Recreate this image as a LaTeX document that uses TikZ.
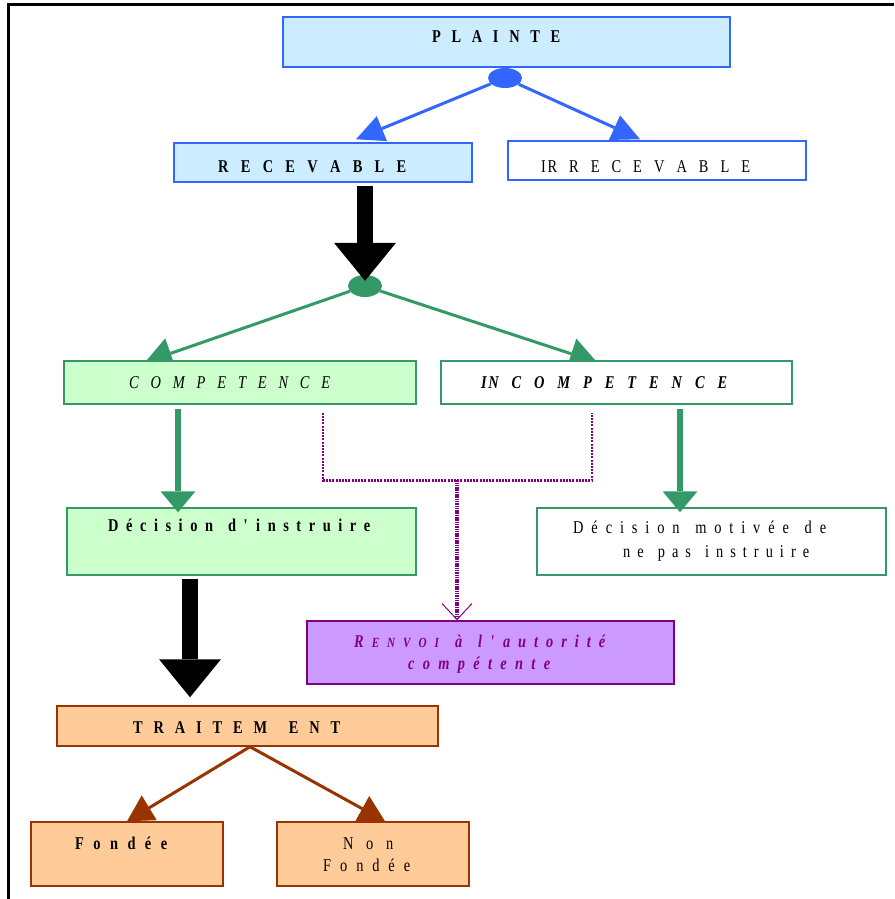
\documentclass[tikz,border=0pt]{standalone}
\usepackage{fontspec}
\setmainfont{Liberation Serif}[FakeStretch=0.8]
\usetikzlibrary{arrows.meta,shapes.geometric}
\definecolor{bblue}{HTML}{3366FF}
\definecolor{lblue}{HTML}{CCECFF}
\definecolor{dgreen}{HTML}{339966}
\definecolor{lgreen}{HTML}{CCFFCC}
\definecolor{purp}{HTML}{800080}
\definecolor{lpurp}{HTML}{CC99FF}
\definecolor{bbrown}{HTML}{993300}
\definecolor{lorange}{HTML}{FFCC99}
\pgfdeclarelayer{bg}
\pgfsetlayers{bg,main}
\newcommand\myfnt{\fontsize{18pt}{21pt}\selectfont}
\newcommand\smallcapfnt{\fontsize{14pt}{16pt}\selectfont}
\newcommand\sE{{\smallcapfnt E}}
\newcommand\sN{{\smallcapfnt N}}
\newcommand\sV{{\smallcapfnt V}}
\newcommand\sO{{\smallcapfnt O}}
\newcommand\sI{{\smallcapfnt I}}
\newcommand\apos{\textquotesingle}
\makeatletter
\def\sp@loop#1{%
  \ifx#1\relax
  \else
    \ifx#1|\hfill\else\hfill#1\fi
    \expandafter\sp@loop
  \fi}
\def\sp@first#1{#1\sp@loop}
\newcommand\spread[2]{\hbox to #1{\sp@first#2\relax}}
\makeatother
\begin{document}
\begin{tikzpicture}[x=1pt,y=-1pt,
  box/.style={rectangle, draw, line width=1.5pt, inner sep=0pt},
  bluebox/.style={box, draw=bblue, fill=lblue},
  bluewbox/.style={box, draw=bblue, fill=white},
  greenbox/.style={box, draw=dgreen, fill=lgreen},
  greenwbox/.style={box, draw=dgreen, fill=white},
  purpbox/.style={box, draw=purp, fill=lpurp},
  orbox/.style={box, draw=bbrown, fill=lorange},
  txt/.style={anchor=base west, inner sep=0pt, font=\myfnt},
  txtb/.style={txt, font=\myfnt\bfseries},
  txti/.style={txt, font=\myfnt\itshape},
  txtbi/.style={txt, font=\myfnt\bfseries\itshape},
  barrow/.style={color=bblue, line width=3pt, -{Triangle[length=28pt,width=27pt,line width=0pt]}},
  garrow/.style={color=dgreen, line width=3pt, -{Triangle[length=27pt,width=32pt,line width=0pt]}},
  gvarrow/.style={color=dgreen, line width=5.5pt, -{Triangle[length=21pt,width=35pt,line width=0pt]}},
  karrow/.style={color=black, line width=16pt, -{Triangle[length=38pt,width=62pt,line width=0pt]}},
  brarrow/.style={color=bbrown, line width=3pt, -{Triangle[length=26pt,width=29pt,line width=0pt]}},
  pline/.style={color=purp, line width=2.5pt, dash pattern=on 2pt off 1.2pt},
  parrow/.style={color=purp, line width=3.5pt, dash pattern=on 1.5pt off 0.8pt, -{Straight Barb[length=16pt,width=30pt,line width=1pt]}},
  dot/.style={ellipse, inner sep=0pt}
]
\useasboundingbox (0,0) rectangle (894,899);
\draw[line width=2.5pt] (8.7,899) -- (8.7,4.7) -- (894,4.7);

% boxes
\node[bluebox, minimum width=447pt, minimum height=50pt] (plainte) at (506.5,42) {};
\node[bluebox, minimum width=298pt, minimum height=39pt] (rec) at (323,162.5) {};
\node[bluewbox, minimum width=298pt, minimum height=39pt] (irr) at (657,160.5) {};
\node[greenbox, minimum width=352pt, minimum height=43pt] (comp) at (240,382.5) {};
\node[greenwbox, minimum width=351pt, minimum height=43pt] (incomp) at (616.5,382.5) {};
\node[greenbox, minimum width=349pt, minimum height=67pt] (dinst) at (241.5,541.5) {};
\node[greenwbox, minimum width=349pt, minimum height=67pt] (dmot) at (711.5,541.5) {};
\node[purpbox, minimum width=367pt, minimum height=63pt] (renvoi) at (490.5,652.5) {};
\node[orbox, minimum width=381pt, minimum height=40pt] (trait) at (247.5,726) {};
\node[orbox, minimum width=192pt, minimum height=64pt] (fondee) at (127,854) {};
\node[orbox, minimum width=192pt, minimum height=64pt] (nonf) at (373,854) {};

% texts
\node[txtb] (tplainte) at (432,43) {\spread{128pt}{PLAINTE}};
\node[txtb] (trec) at (218,172) {\spread{188pt}{RECEVABLE}};
\node[txt] (tirr) at (541,172) {\spread{209pt}{{I\kern1.5pt R}RECEVABLE}};
\node[txti] (tcomp) at (129,388) {\spread{201pt}{COMPETENCE}};
\node[txtbi] (tincomp) at (481,388) {\spread{246pt}{{I\kern1.5pt N}COMPETENCE}};
\node[txtb] (tdinst) at (108,531) {\spread{262pt}{Décision|d\apos instruire}};
\node[txt] (tdmot1) at (573,533) {\spread{253pt}{Décision|motivée|de}};
\node[txt] (tdmot2) at (623,557) {\spread{186pt}{ne|pas|instruire}};
\node[txtbi, text=purp] (trenv1) at (354,647) {\spread{251pt}{R\sE\sN\sV\sO\sI|à|l\apos autorité}};
\node[txtbi, text=purp] (trenv2) at (408,669) {\spread{142pt}{compétente}};
\node[txtb] (ttrait) at (133,733) {\spread{207pt}{TRAITEM|ENT}};
\node[txtb] (tfond) at (75,849) {\spread{92pt}{Fondée}};
\node[txt] (tnon) at (343,849) {\spread{50pt}{Non}};
\node[txt] (tnonf) at (323,871) {\spread{87pt}{Fondée}};

% dots
\node[dot, fill=bblue, minimum width=34pt, minimum height=20pt] (bd) at (505,78) {};
\node[dot, fill=dgreen, minimum width=34pt, minimum height=22pt] (gd) at (365,286) {};

% blue arrows
\draw[barrow] (bd) -- ([shift={(33,-3)}]rec.north);
\draw[barrow] (bd) -- ([shift={(-17,-1)}]irr.north);

% black arrow 1
\coordinate (k1a) at (gd.north |- rec.south);
\draw[karrow] ([yshift=-3pt]k1a) -- ([yshift=-6pt]gd.north);

% green diagonal arrows (behind boxes)
\begin{pgfonlayer}{bg}
\draw[garrow] (gd) -- ([shift={(-95,2)}]comp.north);
\draw[garrow] (gd) -- ([shift={(-19.5,2)}]incomp.north);
\end{pgfonlayer}

% green vertical arrows
\coordinate (g1) at ([shift={(-62,4)}]comp.south);
\coordinate (g1e) at (g1 |- dinst.north);
\draw[gvarrow] (g1) -- ([yshift=-5pt]g1e);
\coordinate (g2) at ([shift={(63.5,4)}]incomp.south);
\coordinate (g2e) at (g2 |- dmot.north);
\draw[gvarrow] (g2) -- ([yshift=-5pt]g2e);

% purple dotted connectors
\coordinate (p1) at ([shift={(83,8)}]comp.south);
\coordinate (p2) at ([shift={(-24.5,8)}]incomp.south);
\coordinate (pj) at ([shift={(-33.5,-140)}]renvoi.north);
\draw[pline] (p1) -- (p1 |- pj) -- (p2 |- pj) -- (p2);
\draw[parrow] (pj) -- ([xshift=-33.5pt]renvoi.north);

% black arrow 2
\coordinate (k2a) at ([xshift=-51.5pt]dinst.south);
\draw[karrow] ([yshift=-3pt]k2a) -- ([xshift=-57.5pt,yshift=8pt]trait.north);

% brown arrows
\coordinate (bs) at ([xshift=2.5pt]trait.south);
\draw[brarrow] (bs) -- (fondee.north);
\draw[brarrow] (bs) -- ([xshift=12pt]nonf.north);
\end{tikzpicture}
\end{document}
